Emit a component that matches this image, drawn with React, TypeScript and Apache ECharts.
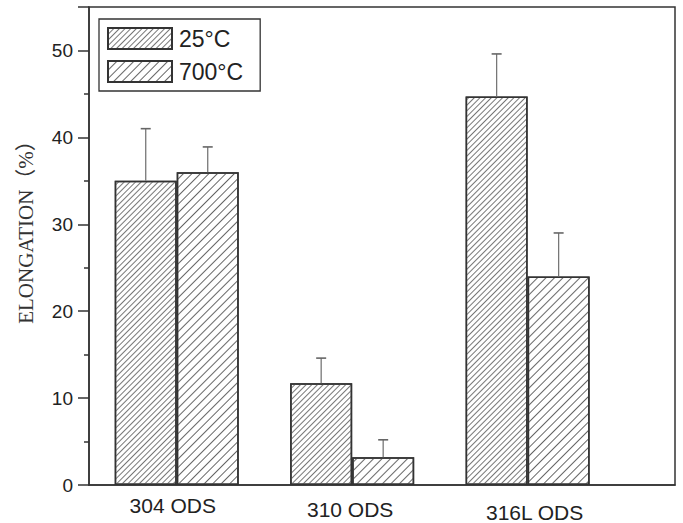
import React, { useEffect, useRef } from "react";
import * as echarts from "echarts";

const categories = ["304 ODS", "310 ODS", "316L ODS"];
const positions = [1, 2, 3];
const elong25 = [35.0, 11.7, 44.7];
const elong700 = [36.0, 3.2, 24.0];
const err25 = [6.0, 2.9, 4.9];
const err700 = [2.9, 2.0, 5.0];
const yMax = 55;
const yInterval = 10;

const SANS = "'Liberation Sans', Arial, sans-serif";
const BAR_W = 62;

function errorSeries(name: string, vals: number[], errs: number[], offset: number) {
  return {
    type: "custom",
    name,
    z: 5,
    silent: true,
    data: positions.map((p, i) => [p, vals[i], errs[i]]),
    encode: { x: 0, y: 1 },
    renderItem: (params: any, api: any) => {
      const x = api.value(0);
      const v = api.value(1);
      const e = api.value(2);
      const base = api.coord([x, v]);
      const top = api.coord([x, v + e]);
      const cx = base[0] + offset;
      return {
        type: "group",
        children: [
          {
            type: "line",
            shape: { x1: cx, y1: base[1], x2: cx, y2: top[1] },
            style: { stroke: "#777", lineWidth: 1.3 },
          },
          {
            type: "line",
            shape: { x1: cx - 5, y1: top[1], x2: cx + 5, y2: top[1] },
            style: { stroke: "#666", lineWidth: 1.6 },
          },
        ],
      };
    },
  };
}

export default function App() {
  const ref = useRef<HTMLDivElement>(null);
  useEffect(() => {
    if (!ref.current) return;
    const chart = echarts.init(ref.current, null, { renderer: "svg" });
    const option: any = {
      animation: false,
      backgroundColor: "#fff",
      grid: {
        left: 89,
        right: 8,
        top: 7,
        bottom: 38,
        show: true,
        borderColor: "#333",
        borderWidth: 1.5,
        backgroundColor: "transparent",
      },
      legend: {
        orient: "vertical",
        left: 99,
        top: 19,
        data: ["25°C", "700°C"],
        icon: "rect",
        itemWidth: 64,
        itemHeight: 21,
        itemGap: 10,
        padding: [8, 17, 8, 8],
        borderColor: "#333",
        borderWidth: 1.3,
        textStyle: { fontSize: 23, color: "#222", fontFamily: SANS, padding: [0, 0, 0, 2] },
      },
      xAxis: {
        type: "value",
        min: 0.5,
        max: 3.84,
        axisLine: { show: true, lineStyle: { color: "#333", width: 1.5 } },
        axisTick: { show: false },
        splitLine: { show: false },
        axisLabel: {
          customValues: positions,
          margin: 10,
          formatter: (v: number) => {
            const i = positions.indexOf(v);
            if (i < 0) return "";
            return "{c" + i + "|" + categories[i] + "}";
          },
          rich: {
            c0: { fontSize: 21, color: "#222", fontFamily: SANS, padding: [0, 8, 0, 0] },
            c1: { fontSize: 21, color: "#222", fontFamily: SANS, padding: [4, 4, 0, 0] },
            c2: { fontSize: 21, color: "#222", fontFamily: SANS, padding: [7, 0, 0, 14] },
          },
        },
      },
      yAxis: {
        type: "value",
        min: 0,
        max: yMax,
        interval: yInterval,
        axisLine: { show: true, lineStyle: { color: "#333", width: 1.5 } },
        axisTick: { show: true, length: 11, lineStyle: { color: "#333", width: 1.5 } },
        minorTick: { show: true, splitNumber: 2, length: 5, lineStyle: { color: "#333", width: 1.5 } },
        splitLine: { show: false },
        axisLabel: {
          fontSize: 19,
          color: "#222",
          fontFamily: SANS,
          margin: 16,
          showMaxLabel: false,
        },
      },
      graphic: [
        {
          type: "text",
          x: 26,
          y: 227,
          rotation: Math.PI / 2,
          style: {
            text: "ELONGATION（%）",
            fontSize: 21,
            fontFamily: "'Liberation Serif', 'Times New Roman', 'Noto Sans CJK SC', serif",
            fill: "#333",
            align: "center",
            verticalAlign: "middle",
          },
        },
      ],
      series: [
        {
          type: "bar",
          name: "25°C",
          barWidth: BAR_W,
          barGap: "0%",
          data: positions.map((p, i) => [p, elong25[i]]),
          itemStyle: {
            color: "#fff",
            borderColor: "#333",
            borderWidth: 1.5,
            decal: {
              symbol: "rect",
              symbolSize: 1,
              dashArrayX: [1, 0],
              dashArrayY: [1, 2.6],
              rotation: -Math.PI / 4,
              color: "#777",
            },
          },
        },
        {
          type: "bar",
          name: "700°C",
          barWidth: BAR_W,
          barGap: "0%",
          data: positions.map((p, i) => [p, elong700[i]]),
          itemStyle: {
            color: "#fff",
            borderColor: "#333",
            borderWidth: 1.5,
            decal: {
              symbol: "rect",
              symbolSize: 1,
              dashArrayX: [1, 0],
              dashArrayY: [1, 4.2],
              rotation: -Math.PI / 4,
              color: "#666",
            },
          },
        },
        errorSeries("err25", elong25, err25, -BAR_W / 2),
        errorSeries("err700", elong700, err700, BAR_W / 2),
      ],
    };
    chart.setOption(option);
    return () => chart.dispose();
  }, []);
  return (
    <div
      ref={ref}
      style={{ position: "fixed", left: 0, top: 0, width: 683, height: 523 }}
    />
  );
}
